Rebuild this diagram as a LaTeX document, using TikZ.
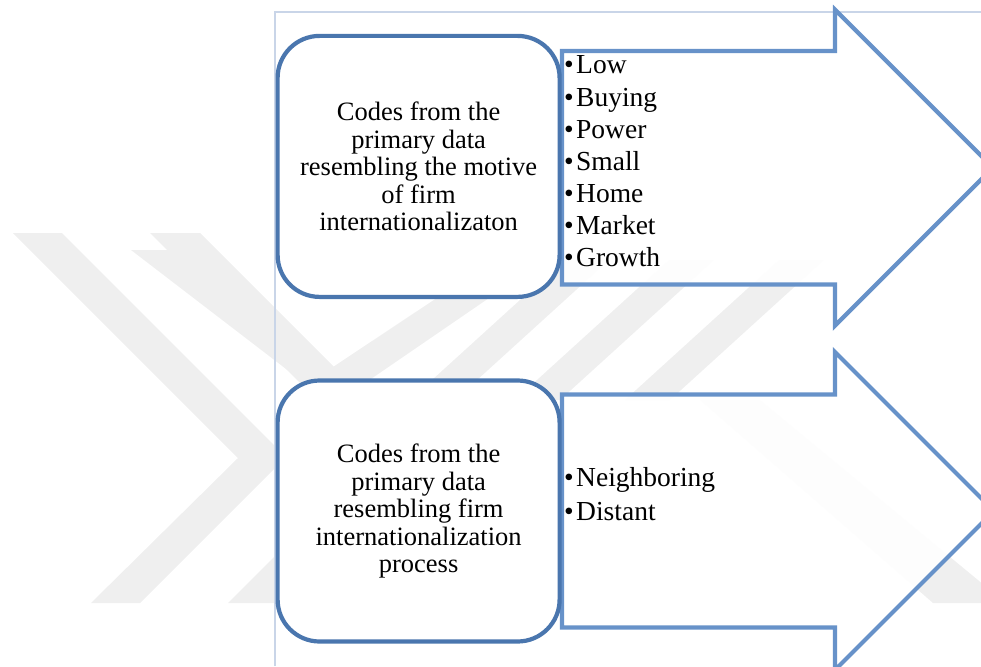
\documentclass[tikz,border=0pt]{standalone}
\usepackage{fontspec}
\setmainfont{Liberation Serif}
\usetikzlibrary{positioning}
\definecolor{kodplava}{RGB}{74,118,174}
\definecolor{strplava}{RGB}{103,146,201}
\definecolor{okvir}{RGB}{201,213,232}
\definecolor{znak}{RGB}{239,239,239}
\tikzset{kodbox/.style={draw=kodplava, line width=4.2pt, rounded corners=42pt,
    fill=white, minimum width=282pt, minimum height=261pt, align=center,
    inner sep=0pt, font=\fontsize{26.5}{27.5}\selectfont}}
\tikzset{strelica/.style={draw=strplava, line width=4.2pt, fill=white,
    fill opacity=0.92, line join=miter}}
\tikzset{stavka/.style={anchor=base west, inner sep=0pt,
    font=\fontsize{27.5}{33}\selectfont}}

\begin{document}
\begin{tikzpicture}[x=1pt, y=-1pt]
    \useasboundingbox (0, 0) rectangle (981, 666);

    %vodeni znak
    \fill[znak] (13, 233) -- (62, 233) -- (286, 457) -- (140, 603) -- (91, 603)
        -- (238, 458) -- cycle;
    \fill[znak] (150, 233) -- (200, 233) -- (424, 457) -- (277, 603) -- (228, 603)
        -- (374, 457) -- cycle;
    \fill[znak] (131, 250) -- (181, 250) -- (333, 367) -- (509, 250) -- (559, 250)
        -- (333, 405) -- cycle;
    \foreach \x in {435, 540, 650}
        \fill[znak] (\x-25, 400) -- (\x+20, 400) -- (\x+174, 260) -- (\x+129, 260) -- cycle;
    \fill[znak] (700, 400) -- (760, 400) -- (990, 590) -- (990, 603) -- (933, 603) -- cycle;

    %okvir
    \draw[okvir, line width=1.2pt] (275, 666) -- (275, 12) -- (981, 12);

    %strelice
    \draw[strelica] (562, 51) -- (835, 51) -- (835, 9.7) -- (993, 167.7)
        -- (835, 325.7) -- (835, 284.5) -- (562, 284.5) -- cycle;
    \draw[strelica] (562, 394.5) -- (835, 394.5) -- (835, 352) -- (994, 511)
        -- (835, 670) -- (835, 627.5) -- (562, 627.5) -- cycle;

    %kutije
    \node[kodbox] (motiv) at (418.6, 166.4) {Codes from the\\primary data\\
        resembling the motive\\of firm\\internationalizaton};
    \node[kodbox] (proces) at (418.6, 511) {Codes from the\\primary data\\
        resembling firm\\internationalization\\process};

    %popis
    \foreach \rijec [count=\i] in {Low, Buying, Power, Small, Home, Market, Growth}
        \node[stavka] (motiv-\i) at (564, 74+32.1*\i-32.1)
            {\makebox[12pt][l]{•}\rijec};
    \node[stavka] (proces-1) at (564, 486.7) {\makebox[12pt][l]{•}Neighboring};
    \node[stavka] (proces-2) at (564, 520) {\makebox[12pt][l]{•}Distant};
\end{tikzpicture}
\end{document}
